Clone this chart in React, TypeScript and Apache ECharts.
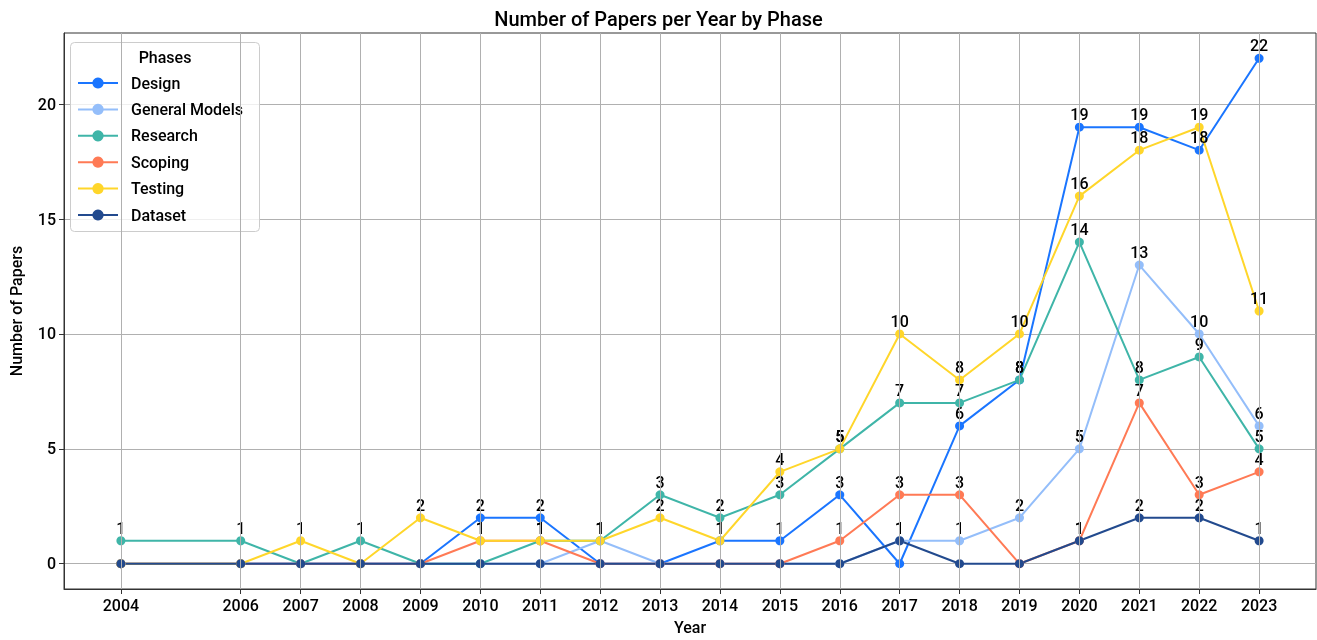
import React, { useEffect, useRef } from "react";
import * as echarts from "echarts";

const years = [2004, 2006, 2007, 2008, 2009, 2010, 2011, 2012, 2013, 2014, 2015, 2016, 2017, 2018, 2019, 2020, 2021, 2022, 2023];
const design = [0, 0, 0, 0, 0, 2, 2, 0, 0, 1, 1, 3, 0, 6, 8, 19, 19, 18, 22];
const generalModels = [0, 0, 0, 0, 0, 0, 0, 1, 0, 0, 0, 0, 1, 1, 2, 5, 13, 10, 6];
const research = [1, 1, 0, 1, 0, 0, 1, 1, 3, 2, 3, 5, 7, 7, 8, 14, 8, 9, 5];
const scoping = [0, 0, 0, 0, 0, 1, 1, 0, 0, 0, 0, 1, 3, 3, 0, 1, 7, 3, 4];
const testing = [0, 0, 1, 0, 2, 1, 1, 1, 2, 1, 4, 5, 10, 8, 10, 16, 18, 19, 11];
const dataset = [0, 0, 0, 0, 0, 0, 0, 0, 0, 0, 0, 0, 1, 0, 0, 1, 2, 2, 1];
const yTicks = [0, 5, 10, 15, 20];

const seriesDefs = [
  { name: "Design", values: design, color: "#1a75ff" },
  { name: "General Models", values: generalModels, color: "#94befa" },
  { name: "Research", values: research, color: "#3fb5a8" },
  { name: "Scoping", values: scoping, color: "#ff7a55" },
  { name: "Testing", values: testing, color: "#ffd62a" },
  { name: "Dataset", values: dataset, color: "#224a8e" },
];

const FONT = "Roboto";
const FW = 500;

export default function App() {
  const ref = useRef<HTMLDivElement>(null);
  useEffect(() => {
    if (!ref.current) return;
    const chart = echarts.init(ref.current, undefined, { renderer: "svg" });
    const lineSeries = seriesDefs.map((s) => ({
      name: s.name,
      type: "line",
      z: 2,
      data: years.map((y, i) => [y, s.values[i]]),
      symbol: "circle",
      symbolSize: 9,
      color: s.color,
      lineStyle: { width: 2, color: s.color },
      itemStyle: { color: s.color },
      label: {
        show: true,
        position: "top",
        distance: 0,
        fontFamily: FONT,
        fontWeight: FW,
        fontSize: 16,
        color: "#000",
        formatter: (p: any) => (p.value[1] === 0 ? "" : String(p.value[1])),
      },
      labelLayout: { hideOverlap: false },
      emphasis: { disabled: true },
    }));
    chart.setOption({
      animation: false,
      textStyle: { fontFamily: FONT, fontWeight: FW },
      title: {
        text: "Number of Papers per Year by Phase",
        left: "center",
        top: 4,
        textStyle: { fontFamily: FONT, fontSize: 20, fontWeight: FW, color: "#000" },
      },
      grid: {
        left: 61,
        right: 1,
        top: 33,
        bottom: 48,
        show: true,
        borderColor: "#333",
        borderWidth: 1,
      },
      legend: {
        left: 77,
        top: 75,
        padding: 0,
        orient: "vertical",
        itemWidth: 40,
        itemHeight: 14,
        itemGap: 10.4,
        data: seriesDefs.map((s) => s.name),
        textStyle: { fontFamily: FONT, fontWeight: FW, fontSize: 16, color: "#000", padding: [0, 0, 0, 8] },
      },
      graphic: [
        {
          type: "rect",
          z: 3,
          shape: { x: 70.5, y: 42.5, width: 189, height: 189, r: 4 },
          style: { fill: "rgba(255,255,255,0.8)", stroke: "#cccccc", lineWidth: 1 },
        },
        {
          type: "text",
          z: 5,
          x: 165,
          y: 57,
          style: {
            text: "Phases",
            fontFamily: FONT,
            fontWeight: FW,
            fontSize: 16,
            fill: "#000",
            align: "center",
            verticalAlign: "middle",
          },
        },
      ],
      xAxis: {
        type: "value",
        min: 2003.05,
        max: 2023.95,
        name: "Year",
        nameLocation: "middle",
        nameGap: 30,
        nameTextStyle: { fontFamily: FONT, fontWeight: FW, fontSize: 16, color: "#000" },
        axisLine: { show: true, onZero: false, lineStyle: { color: "#333" } },
        axisTick: { show: true, length: 5, customValues: years, lineStyle: { color: "#333" } },
        axisLabel: {
          customValues: years,
          fontFamily: FONT,
          fontWeight: FW,
          fontSize: 16,
          color: "#000",
          margin: 8,
          formatter: (v: number) => String(v),
        },
        splitLine: { show: false },
      },
      yAxis: {
        type: "value",
        min: -1.1,
        max: 23.1,
        name: "Number of Papers",
        nameLocation: "middle",
        nameGap: 40,
        nameTextStyle: { fontFamily: FONT, fontWeight: FW, fontSize: 16, color: "#000" },
        axisLine: { show: true, onZero: false, lineStyle: { color: "#333" } },
        axisTick: { show: true, length: 5, customValues: yTicks, lineStyle: { color: "#333" } },
        axisLabel: {
          customValues: yTicks,
          fontFamily: FONT,
          fontWeight: FW,
          fontSize: 16,
          color: "#000",
          margin: 8,
          formatter: (v: number) => String(v),
        },
        splitLine: { show: true, lineStyle: { color: "#b0b0b0", width: 1 } },
      },
      series: [
        {
          name: "_xgrid",
          type: "line",
          z: 1,
          data: [],
          silent: true,
          markLine: {
            silent: true,
            symbol: "none",
            animation: false,
            label: { show: false },
            emphasis: { disabled: true },
            lineStyle: { color: "#b0b0b0", width: 1, type: "solid" },
            data: years.map((y) => ({ xAxis: y })),
          },
        },
        ...lineSeries,
      ],
    });
    return () => chart.dispose();
  }, []);
  return <div ref={ref} style={{ position: "fixed", left: 0, top: 0, width: 1317, height: 640 }} />;
}
